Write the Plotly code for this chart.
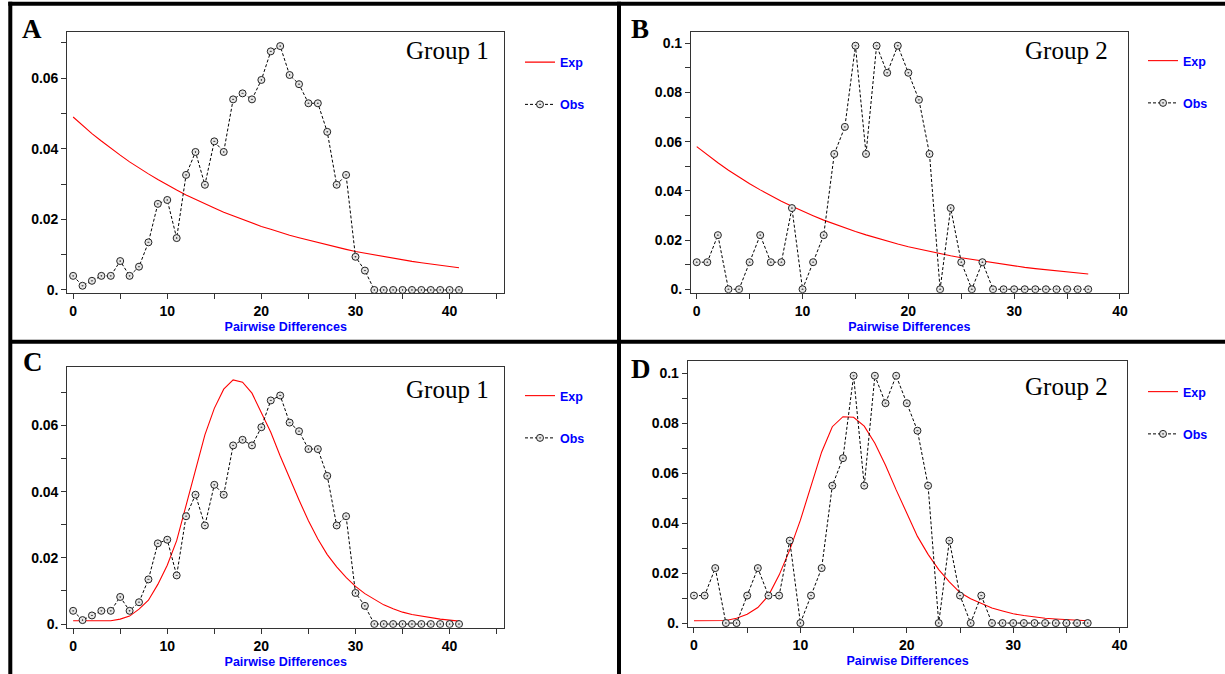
import plotly.graph_objects as go

W, H = 1225, 674

# ---------------- data ----------------
x_g1 = list(range(42))
x_g2 = list(range(38))

obs_g1 = [0.0040, 0.0012, 0.0026, 0.0040, 0.0040, 0.0082, 0.0040, 0.0066, 0.0135, 0.0244,
          0.0255, 0.0147, 0.0326, 0.0391, 0.0298, 0.0421, 0.0391, 0.0540, 0.0557, 0.0540,
          0.0595, 0.0676, 0.0691, 0.0609, 0.0583, 0.0529, 0.0529, 0.0448, 0.0298, 0.0326,
          0.0094, 0.0055, 0, 0, 0, 0, 0, 0, 0, 0, 0, 0]

obs_g2 = [0.011, 0.011, 0.022, 0, 0, 0.011, 0.022, 0.011, 0.011, 0.033,
          0, 0.011, 0.022, 0.055, 0.066, 0.099, 0.055, 0.099, 0.088, 0.099,
          0.088, 0.077, 0.055, 0, 0.033, 0.011, 0, 0.011, 0, 0,
          0, 0, 0, 0, 0, 0, 0, 0]

exp_a = [0.0490, 0.0466, 0.0443, 0.0422, 0.0401, 0.0382, 0.0363, 0.0345, 0.0329, 0.0313,
         0.0297, 0.0283, 0.0269, 0.0256, 0.0243, 0.0232, 0.0220, 0.0210, 0.0199, 0.0190,
         0.0180, 0.0172, 0.0163, 0.0155, 0.0148, 0.0141, 0.0134, 0.0127, 0.0121, 0.0115,
         0.0109, 0.0104, 0.0099, 0.0094, 0.0090, 0.0085, 0.0081, 0.0077, 0.0073, 0.0070,
         0.0066, 0.0063]

exp_b = [0.0580, 0.0546, 0.0514, 0.0484, 0.0456, 0.0429, 0.0404, 0.0380, 0.0358, 0.0337,
         0.0317, 0.0299, 0.0281, 0.0265, 0.0249, 0.0235, 0.0221, 0.0208, 0.0196, 0.0184,
         0.0173, 0.0163, 0.0154, 0.0145, 0.0136, 0.0128, 0.0121, 0.0114, 0.0107, 0.0101,
         0.0095, 0.0089, 0.0084, 0.0079, 0.0075, 0.0070, 0.0066, 0.0062]

exp_c = [0.0010, 0.0010, 0.0010, 0.0010, 0.0010, 0.0015, 0.0024, 0.0045, 0.0072, 0.0120,
         0.0178, 0.0252, 0.0360, 0.0465, 0.0572, 0.0652, 0.0710, 0.0738, 0.0731, 0.0698,
         0.0640, 0.0580, 0.0508, 0.0440, 0.0375, 0.0312, 0.0257, 0.0210, 0.0173, 0.0141,
         0.0114, 0.0092, 0.0074, 0.0058, 0.0046, 0.0036, 0.0029, 0.0024, 0.0019, 0.0015,
         0.0012, 0.0009]

exp_d = [0.0009, 0.0009, 0.0009, 0.0010, 0.0019, 0.0035, 0.0062, 0.0110, 0.0192, 0.0293,
         0.0412, 0.0553, 0.0685, 0.0786, 0.0826, 0.0824, 0.0788, 0.0720, 0.0632, 0.0533,
         0.0437, 0.0347, 0.0275, 0.0214, 0.0165, 0.0122, 0.0097, 0.0078, 0.0060, 0.0048,
         0.0037, 0.0030, 0.0024, 0.0019, 0.0016, 0.0013, 0.0010, 0.0009]

panel_letters = ["A", "B", "C", "D"]
group_labels = ["Group 1", "Group 2", "Group 1", "Group 2"]
series_names = ["Exp", "Obs"]
x_title = "Pairwise Differences"

yticks_g1 = [0, 0.01, 0.02, 0.03, 0.04, 0.05, 0.06, 0.07]
ytext_g1 = ["0.", "", "0.02", "", "0.04", "", "0.06", ""]
yticks_g2 = [0, 0.01, 0.02, 0.03, 0.04, 0.05, 0.06, 0.07, 0.08, 0.09, 0.1]
ytext_g2 = ["0.", "", "0.02", "", "0.04", "", "0.06", "", "0.08", "", "0.1"]
xticks_g1 = [0, 5, 10, 15, 20, 25, 30, 35, 40, 45]
xtext_g1 = ["0", "", "10", "", "20", "", "30", "", "40", ""]
xticks_g2 = [0, 5, 10, 15, 20, 25, 30, 35, 40]
xtext_g2 = ["0", "", "10", "", "20", "", "30", "", "40"]

# ---------------- layout geometry (pixels) ----------------
def px(x):
    return x / W

def py(y):
    return 1 - y / H

panels = [
    dict(x=x_g1, exp=exp_a, obs=obs_g1, box=(67.2, 504.2, 32.3, 293.3),
         xr=[-0.63, 45.8], yr=[-0.00094, 0.0730], yt=(yticks_g1, ytext_g1), xt=(xticks_g1, xtext_g1),
         letter=(19.5, 29.0), group=(491, 50.0), leg=(520, 47.5)),
    dict(x=x_g2, exp=exp_b, obs=obs_g2, box=(690.9, 1127.7, 31.7, 292.7),
         xr=[-0.55, 40.73], yr=[-0.0014, 0.1047], yt=(yticks_g2, ytext_g2), xt=(xticks_g2, xtext_g2),
         letter=(628.5, 28.5), group=(1110, 50.0), leg=(1143, 46.0)),
    dict(x=x_g1, exp=exp_c, obs=obs_g1, box=(67.2, 504.2, 366.7, 627.7),
         xr=[-0.63, 45.8], yr=[-0.0011, 0.0778], yt=(yticks_g1, ytext_g1), xt=(xticks_g1, xtext_g1),
         letter=(20.5, 362.5), group=(491, 389.5), leg=(520, 381.0)),
    dict(x=x_g2, exp=exp_d, obs=obs_g2, box=(687.7, 1127.4, 361.0, 627.3),
         xr=[-0.59, 40.73], yr=[-0.0017, 0.1049], yt=(yticks_g2, ytext_g2), xt=(xticks_g2, xtext_g2),
         letter=(628.5, 368.5), group=(1110, 386.5), leg=(1143, 377.0)),
]

BLUE = "#0000ff"
RED = "#ff0000"
SANS = "Liberation Sans, Arial, sans-serif"
SERIF = "Liberation Serif, Times New Roman, serif"

fig = go.Figure()
layout = dict(
    width=W, height=H,
    margin=dict(l=0, r=0, t=0, b=0),
    paper_bgcolor="white", plot_bgcolor="white",
    showlegend=True,
    annotations=[], shapes=[],
)

for i, p in enumerate(panels):
    n = "" if i == 0 else str(i + 1)
    xa, ya = "x" + n, "y" + n
    legname = "legend" + n
    x0, x1, y0, y1 = p["box"]

    fig.add_trace(go.Scatter(
        x=p["x"], y=p["exp"], name=series_names[0], mode="lines",
        line=dict(color=RED, width=1.1), xaxis=xa, yaxis=ya,
        legend=legname, legendgroup="exp" + n))
    fig.add_trace(go.Scatter(
        x=p["x"], y=p["obs"], name=series_names[1], mode="lines+markers",
        line=dict(color="black", width=1, dash="3px,2px"),
        marker=dict(symbol="circle-dot", size=7, color="#e6e6e6",
                    line=dict(color="#222222", width=1)),
        xaxis=xa, yaxis=ya, legend=legname, legendgroup="obs" + n))

    axis_common = dict(showline=True, mirror=True, linecolor="#333333", linewidth=1,
                       showgrid=False, zeroline=False, ticks="outside", ticklen=5,
                       tickcolor="#333333", tickwidth=1, automargin=False,
                       tickfont=dict(family=SANS, size=14, color="black", weight="bold"))
    layout["xaxis" + n] = dict(
        axis_common, domain=[px(x0), px(x1)], anchor=ya, range=p["xr"],
        tickmode="array", tickvals=p["xt"][0], ticktext=p["xt"][1],
        title=dict(text=x_title, standoff=4,
                   font=dict(family=SANS, size=12.5, color=BLUE, weight="bold")))
    layout["yaxis" + n] = dict(
        axis_common, domain=[py(y1), py(y0)], anchor=xa, range=p["yr"],
        tickmode="array", tickvals=p["yt"][0], ticktext=p["yt"][1])

    lx, ly = p["leg"]
    layout[legname] = dict(
        x=px(lx), y=py(ly), xanchor="left", yanchor="top",
        bgcolor="rgba(0,0,0,0)", borderwidth=0, traceorder="grouped",
        tracegroupgap=23,
        font=dict(family=SANS, size=12.5, color=BLUE, weight="bold"))

    layout["annotations"].append(dict(
        text="<b>" + panel_letters[i] + "</b>", xref="paper", yref="paper",
        x=px(p["letter"][0]), y=py(p["letter"][1]), xanchor="left", yanchor="middle",
        showarrow=False, font=dict(family=SERIF, size=27, color="black")))
    layout["annotations"].append(dict(
        text=group_labels[i], xref="paper", yref="paper",
        x=px(p["group"][0]), y=py(p["group"][1]), xanchor="right", yanchor="middle",
        showarrow=False, font=dict(family=SERIF, size=25, color="black")))

# frame lines around / between panels
frame = [
    (8.3, 3.7, W, 3.7),          # top
    (10.3, 1.7, 10.3, H),        # left
    (10.3, 341.7, W, 341.7),     # horizontal divider
    (619, 1.7, 619, H),          # vertical divider
]
for (ax0, ay0, ax1, ay1) in frame:
    layout["shapes"].append(dict(type="line", xref="paper", yref="paper",
                                 x0=px(ax0), y0=py(ay0), x1=px(ax1), y1=py(ay1),
                                 line=dict(color="black", width=4)))

fig.update_layout(**layout)
fig.write_html("out.html",
               config={"displayModeBar": False},
               post_script="document.body.style.margin='0';document.body.style.padding='0';")
